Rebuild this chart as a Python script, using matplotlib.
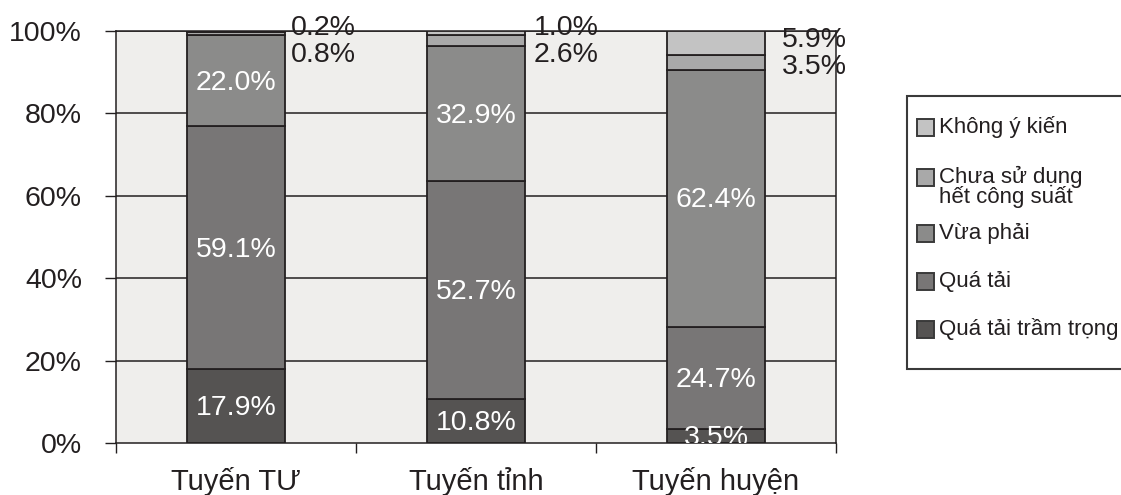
import matplotlib
matplotlib.use("Agg")
import matplotlib.pyplot as plt
from matplotlib.patches import Rectangle
import numpy as np

plt.rcParams['font.family'] = ['Liberation Sans', 'DejaVu Sans']

# Data
categories = ["Tuyến TƯ", "Tuyến tỉnh", "Tuyến huyện"]
series_names = ["Quá tải trầm trọng", "Quá tải", "Vừa phải",
                "Chưa sử dụng\nhết công suất", "Không ý kiến"]
qua_tai_tram_trong = [17.9, 10.8, 3.5]
qua_tai = [59.1, 52.7, 24.7]
vua_phai = [22.0, 32.9, 62.4]
chua_su_dung = [0.8, 2.6, 3.5]
khong_y_kien = [0.2, 1.0, 5.9]
y_ticks = [0, 20, 40, 60, 80, 100]

series = [qua_tai_tram_trong, qua_tai, vua_phai, chua_su_dung, khong_y_kien]

# Style
colors = ["#555352", "#787676", "#8b8b8a", "#a9a9a9", "#c3c3c3"]
edge = "#231f20"
bg = "#efeeec"
fs = 20.5

W, H = 1121, 495
fig = plt.figure(figsize=(W / 100, H / 100), dpi=100)
ax = fig.add_axes([116 / W, 52 / H, 720 / W, 412 / H])
ax.set_facecolor(bg)

x = np.arange(len(categories))
bar_w = 0.41
bottoms = np.zeros(len(categories))
bars_by_series = []
for vals, col in zip(series, colors):
    bars = ax.bar(x, vals, bar_w, bottom=bottoms, color=col,
                  edgecolor=edge, linewidth=1.3, zorder=3)
    bars_by_series.append((bars, np.array(vals), bottoms.copy()))
    bottoms = bottoms + np.array(vals)

# White value labels inside the three large segments
for bars, vals, bots in bars_by_series[:3]:
    for xi, v, b in zip(x, vals, bots):
        ax.annotate(f"{v:.1f}%", (xi, b + v / 2), xytext=(0, -1.5),
                    textcoords="offset points", ha="center", va="center",
                    color="white", fontsize=fs, zorder=5, annotation_clip=False,
                    clip_on=True)

# Dark labels beside the two thin top segments
outside_pos = {
    3: [(0.229, 94.9), (1.242, 94.9), (2.275, 92.0)],
    4: [(0.229, 101.5), (1.242, 101.5), (2.275, 98.5)],
}
for si, positions in outside_pos.items():
    vals = bars_by_series[si][1]
    for v, (px, py) in zip(vals, positions):
        ax.annotate(f"{v:.1f}%", (px, py), xytext=(0, -2.2),
                    textcoords="offset points", ha="left", va="center",
                    color=edge, fontsize=fs, zorder=6, annotation_clip=False)

ax.set_xlim(-0.5, len(categories) - 0.5)
ax.set_ylim(0, 100)

ax.set_yticks(y_ticks)
ax.set_yticklabels([f"{t}%" for t in y_ticks], fontsize=fs, color=edge)
ax.tick_params(axis="y", length=8, width=1, color=edge, pad=16.5, direction="out")
for t in y_ticks[1:]:
    ax.axhline(t, color=edge, linewidth=1.1, zorder=1)

ax.set_xticks(x)
ax.set_xticklabels(categories, fontsize=21, color=edge)
ax.tick_params(axis="x", which="major", length=0, pad=17)
ax.set_xticks(np.arange(-0.5, len(categories)), minor=True)
ax.tick_params(axis="x", which="minor", length=7.5, width=1, color=edge,
               direction="out")

for s in ax.spines.values():
    s.set_color(edge)
    s.set_linewidth(1.1)

# Legend panel, drawn in pixel coordinates of the figure
lg = fig.add_axes([0, 0, 1, 1], facecolor="none")
lg.set_xlim(0, W)
lg.set_ylim(H, 0)
lg.axis("off")
lg.add_patch(Rectangle((907, 96), 300, 273, facecolor="white",
                       edgecolor="#3a3a3a", linewidth=1.5, clip_on=True))
entry_y = [127, 177, 233, 281, 329]
for name, col, yc in zip(series_names[::-1], colors[::-1], entry_y):
    lg.add_patch(Rectangle((917, yc - 8.5), 17, 17, facecolor=col,
                           edgecolor="#3a3a3a", linewidth=1.4))
    lines = name.split("\n")
    for k, line in enumerate(lines):
        lg.text(939, yc + k * 20, line, ha="left", va="center",
                fontsize=16, color=edge)

fig.savefig("out.png", dpi=100, facecolor="white")
